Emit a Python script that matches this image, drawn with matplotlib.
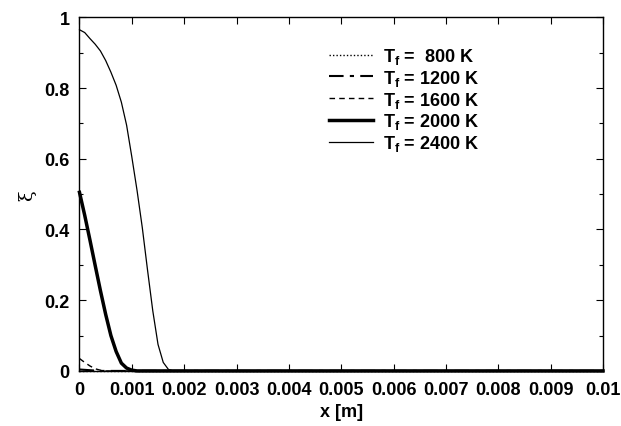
import numpy as np
import matplotlib
matplotlib.use("Agg")
import matplotlib.pyplot as plt
from matplotlib.ticker import MultipleLocator, FormatStrFormatter

plt.rcParams['font.family'] = ['Liberation Sans', 'DejaVu Sans']
plt.rcParams['font.weight'] = 'bold'
plt.rcParams['mathtext.fontset'] = 'custom'
plt.rcParams['mathtext.rm'] = 'Liberation Sans:bold'
plt.rcParams['mathtext.it'] = 'Liberation Sans:bold'
plt.rcParams['mathtext.bf'] = 'Liberation Sans:bold'

# --- data ---
x_800 = [0.0, 0.01]
xi_800 = [0.0, 0.0]

x_1200 = [0.0, 0.0002, 0.0004, 0.01]
xi_1200 = [0.004, 0.002, 0.0, 0.0]

x_1600 = [0.0, 0.0001, 0.0002, 0.0003, 0.0004, 0.0005, 0.01]
xi_1600 = [0.035, 0.024, 0.014, 0.006, 0.002, 0.0, 0.0]

x_2000 = [0.0, 0.0001, 0.0002, 0.0003, 0.0004, 0.0005, 0.0006, 0.0007,
          0.0008, 0.0009, 0.001, 0.0011, 0.01]
xi_2000 = [0.505, 0.44, 0.37, 0.298, 0.227, 0.16, 0.10, 0.055,
           0.022, 0.008, 0.002, 0.0, 0.0]

x_2400 = [0.0, 0.0001, 0.0002, 0.0003, 0.0004, 0.0005, 0.0006, 0.0007,
          0.0008, 0.0009, 0.001, 0.0011, 0.0012, 0.0013, 0.0014, 0.0015,
          0.0016, 0.0017, 0.0018, 0.01]
xi_2400 = [0.965, 0.957, 0.94, 0.924, 0.905, 0.878, 0.845, 0.808,
           0.76, 0.695, 0.605, 0.51, 0.405, 0.285, 0.17, 0.075,
           0.024, 0.004, 0.0, 0.0]

labels = ['T$_\\mathrm{f}$ =  800 K', 'T$_\\mathrm{f}$ = 1200 K',
          'T$_\\mathrm{f}$ = 1600 K', 'T$_\\mathrm{f}$ = 2000 K',
          'T$_\\mathrm{f}$ = 2400 K']

fig = plt.figure(figsize=(6.21, 4.27), dpi=100)
ax = fig.add_axes([0.128, 0.129, 0.843, 0.828])

ax.plot(x_800, xi_800, color='black', lw=1.0, dashes=(1, 1.5), label=labels[0], clip_on=False)
ax.plot(x_1200, xi_1200, color='black', lw=1.5, dashes=(7, 3, 2, 3), label=labels[1], clip_on=False)
ax.plot(x_1600, xi_1600, color='black', lw=1.0, dashes=(4, 3), label=labels[2], clip_on=False)
ax.plot(x_2000, xi_2000, color='black', lw=2.5, label=labels[3], clip_on=False)
ax.plot(x_2400, xi_2400, color='black', lw=0.9, label=labels[4], clip_on=False)

ax.set_xlim(0, 0.01)
ax.set_ylim(0, 1)
ax.xaxis.set_major_locator(MultipleLocator(0.001))
ax.xaxis.set_major_formatter(FormatStrFormatter('%g'))
ax.yaxis.set_major_locator(MultipleLocator(0.2))
ax.yaxis.set_minor_locator(MultipleLocator(0.1))
ax.yaxis.set_major_formatter(FormatStrFormatter('%g'))
ax.tick_params(which='both', direction='in', top=True, right=True,
               labelsize=13, width=0.8)
ax.tick_params(which='major', length=5, pad=7)
ax.tick_params(which='minor', length=3)
for s in ax.spines.values():
    s.set_linewidth(1.0)

ax.set_xlabel('x [m]', fontsize=13, fontweight='bold', labelpad=4)
ax.set_ylabel('ξ', fontsize=14, fontweight='normal', family='DejaVu Serif', labelpad=6)

leg = ax.legend(loc='upper right', bbox_to_anchor=(0.763, 0.919), frameon=False,
                fontsize=13, handlelength=2.4, handletextpad=0.55,
                labelspacing=0.1, borderaxespad=0, borderpad=0)

fig.savefig('out.png', dpi=100)
